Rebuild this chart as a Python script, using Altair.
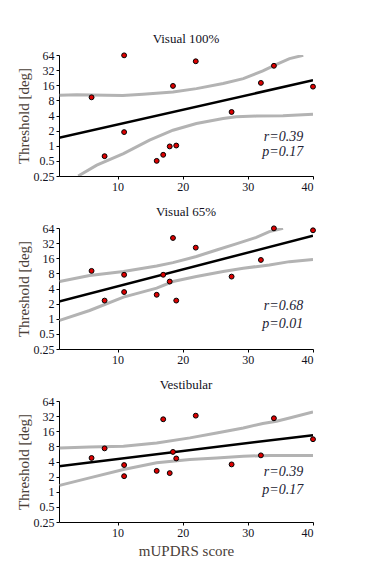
import altair as alt
import pandas as pd

# mUPDRS scores (shared by all panels)
scores = [6, 8, 11, 11, 16, 17, 18, 18.5, 19, 22, 27.5, 32, 34, 40]

titles = ["Visual 100%", "Visual 65%", "Vestibular"]

thr_v100 = [9.2, 0.62, 63, 1.87, 0.5, 0.66, 0.97, 15.5, 1.01, 48, 4.7, 17.8, 39, 15]
thr_v65 = [8.96, 2.3, 7.5, 3.4, 3.0, 7.5, 5.5, 40.5, 2.3, 26, 6.9, 14.8, 63, 57.6]
thr_vest = [4.7, 7.3, 3.4, 2.04, 2.6, 27.7, 2.35, 6.2, 4.6, 32.7, 3.5, 5.3, 29, 11.1]

# regression fit endpoints
fit_x = [1, 40]
fit_v100 = [1.44, 20.1]
fit_v65 = [2.2, 45]
fit_vest = [3.23, 13.4]

# confidence band curves
up_x_v100 = [1.1, 3.7, 8.3, 10.8, 13.9, 18.5, 22.1, 26.2, 29.3, 32.3, 34.4, 36.4, 38.5]
up_y_v100 = [10.1, 10.4, 10.1, 10.0, 10.6, 11.8, 13.7, 17.3, 21.7, 30.9, 41.6, 54.2, 63.1]
lo_x_v100 = [3.95, 6.8, 10.9, 14.9, 18.5, 22.1, 26.2, 28.2, 31.3, 35.4, 40]
lo_y_v100 = [0.25, 0.41, 0.70, 1.29, 2.04, 2.77, 3.48, 3.76, 3.89, 3.94, 4.26]

up_x_v65 = [1.1, 5.7, 10.9, 16.0, 18.5, 22.1, 25.2, 28.2, 31.3, 33.3, 35.4]
up_y_v65 = [5.5, 7.26, 8.69, 11.2, 13.1, 17.3, 23.4, 30.9, 41.6, 54.2, 63.1]
lo_x_v65 = [1.1, 5.7, 10.9, 16.0, 18.5, 22.1, 26.2, 29.3, 33.3, 36.4, 40]
lo_y_v65 = [0.93, 1.46, 2.69, 4.06, 5.5, 6.92, 8.69, 10.1, 11.8, 13.7, 15.2]

up_x_vest = [1.1, 5.7, 10.9, 16.0, 21.1, 25.2, 29.3, 32.3, 34.4, 36.4, 40]
up_y_vest = [7.46, 7.73, 8.06, 9.38, 11.8, 14.8, 18.6, 22.8, 25.3, 29.4, 38.6]
lo_x_vest = [1.1, 5.7, 10.9, 16.0, 21.1, 25.2, 29.3, 33.3, 36.4, 40]
lo_y_vest = [1.34, 1.89, 2.77, 3.76, 4.38, 4.72, 5.10, 5.28, 5.28, 5.28]

stats_r = ["r=0.39", "r=0.68", "r=0.39"]
stats_p = ["p=0.17", "p=0.01", "p=0.17"]
stat_x = 38.5
stat_r_y = [1.46, 1.81, 2.47]
stat_p_y = [0.74, 0.79, 1.06]

y_ticks = [0.25, 0.5, 1, 2, 4, 8, 16, 32, 64]
x_ticks = [10, 20, 30, 40]

FONT = "Liberation Serif"

panels_data = [
    (thr_v100, fit_v100, up_x_v100, up_y_v100, lo_x_v100, lo_y_v100),
    (thr_v65, fit_v65, up_x_v65, up_y_v65, lo_x_v65, lo_y_v65),
    (thr_vest, fit_vest, up_x_vest, up_y_vest, lo_x_vest, lo_y_vest),
]

xscale = alt.Scale(domain=[1, 40], nice=False, zero=False)
yscale = alt.Scale(type="log", base=2, domain=[0.25, 64], nice=False)


def make_panel(i, last):
    thr, fit, ux, uy, lx, ly = panels_data[i]
    xaxis = alt.Axis(values=x_ticks, grid=False, tickSize=3, labelPadding=2,
                     title="mUPDRS score" if last else None, titlePadding=5)
    yaxis = alt.Axis(values=y_ticks, grid=False, tickSize=3, labelPadding=2,
                     format="~g", title="Threshold [deg]", titlePadding=2,
                     labelOverlap=False)
    X = alt.X("x:Q", scale=xscale, axis=xaxis)
    Y = alt.Y("y:Q", scale=yscale, axis=yaxis)

    up = pd.DataFrame({"x": ux, "y": uy})
    lo = pd.DataFrame({"x": lx, "y": ly})
    ft = pd.DataFrame({"x": fit_x, "y": fit})
    pts = pd.DataFrame({"x": scores, "y": thr})
    txt = pd.DataFrame({"x": [stat_x, stat_x], "y": [stat_r_y[i], stat_p_y[i]],
                        "t": [stats_r[i], stats_p[i]]})

    band_u = alt.Chart(up).mark_line(color="#b3b3b3", strokeWidth=3, clip=True).encode(x=X, y=Y)
    band_l = alt.Chart(lo).mark_line(color="#b3b3b3", strokeWidth=3, clip=True).encode(x=X, y=Y)
    fitl = alt.Chart(ft).mark_line(color="black", strokeWidth=2.5, clip=True).encode(x=X, y=Y)
    pt = alt.Chart(pts).mark_point(filled=True, fill="#dd0000", stroke="black", strokeWidth=1,
                                   size=24, opacity=1).encode(x=X, y=Y)
    tx = alt.Chart(txt).mark_text(align="right", baseline="middle", font=FONT, fontSize=14,
                                  fontStyle="italic", color="#222233").encode(x=X, y=Y, text="t:N")
    return alt.layer(band_u, band_l, fitl, pt, tx).properties(
        width=254, height=121,
        title=alt.TitleParams(titles[i], font=FONT, fontSize=13, fontWeight="normal",
                              color="#111122", offset=3),
    )


chart = alt.vconcat(
    make_panel(0, False), make_panel(1, False), make_panel(2, True), spacing=14
).properties(
    padding={"left": 8, "top": 25, "right": 5, "bottom": 5}
).configure_view(stroke=None).configure_axis(
    labelFont=FONT, labelFontSize=12, labelColor="#111122",
    titleFont=FONT, titleFontSize=15, titleFontWeight="normal", titleColor="#4a4038",
    domainColor="black", tickColor="black",
)

chart.save("out.html", embed_options={"renderer": "svg", "actions": False})
